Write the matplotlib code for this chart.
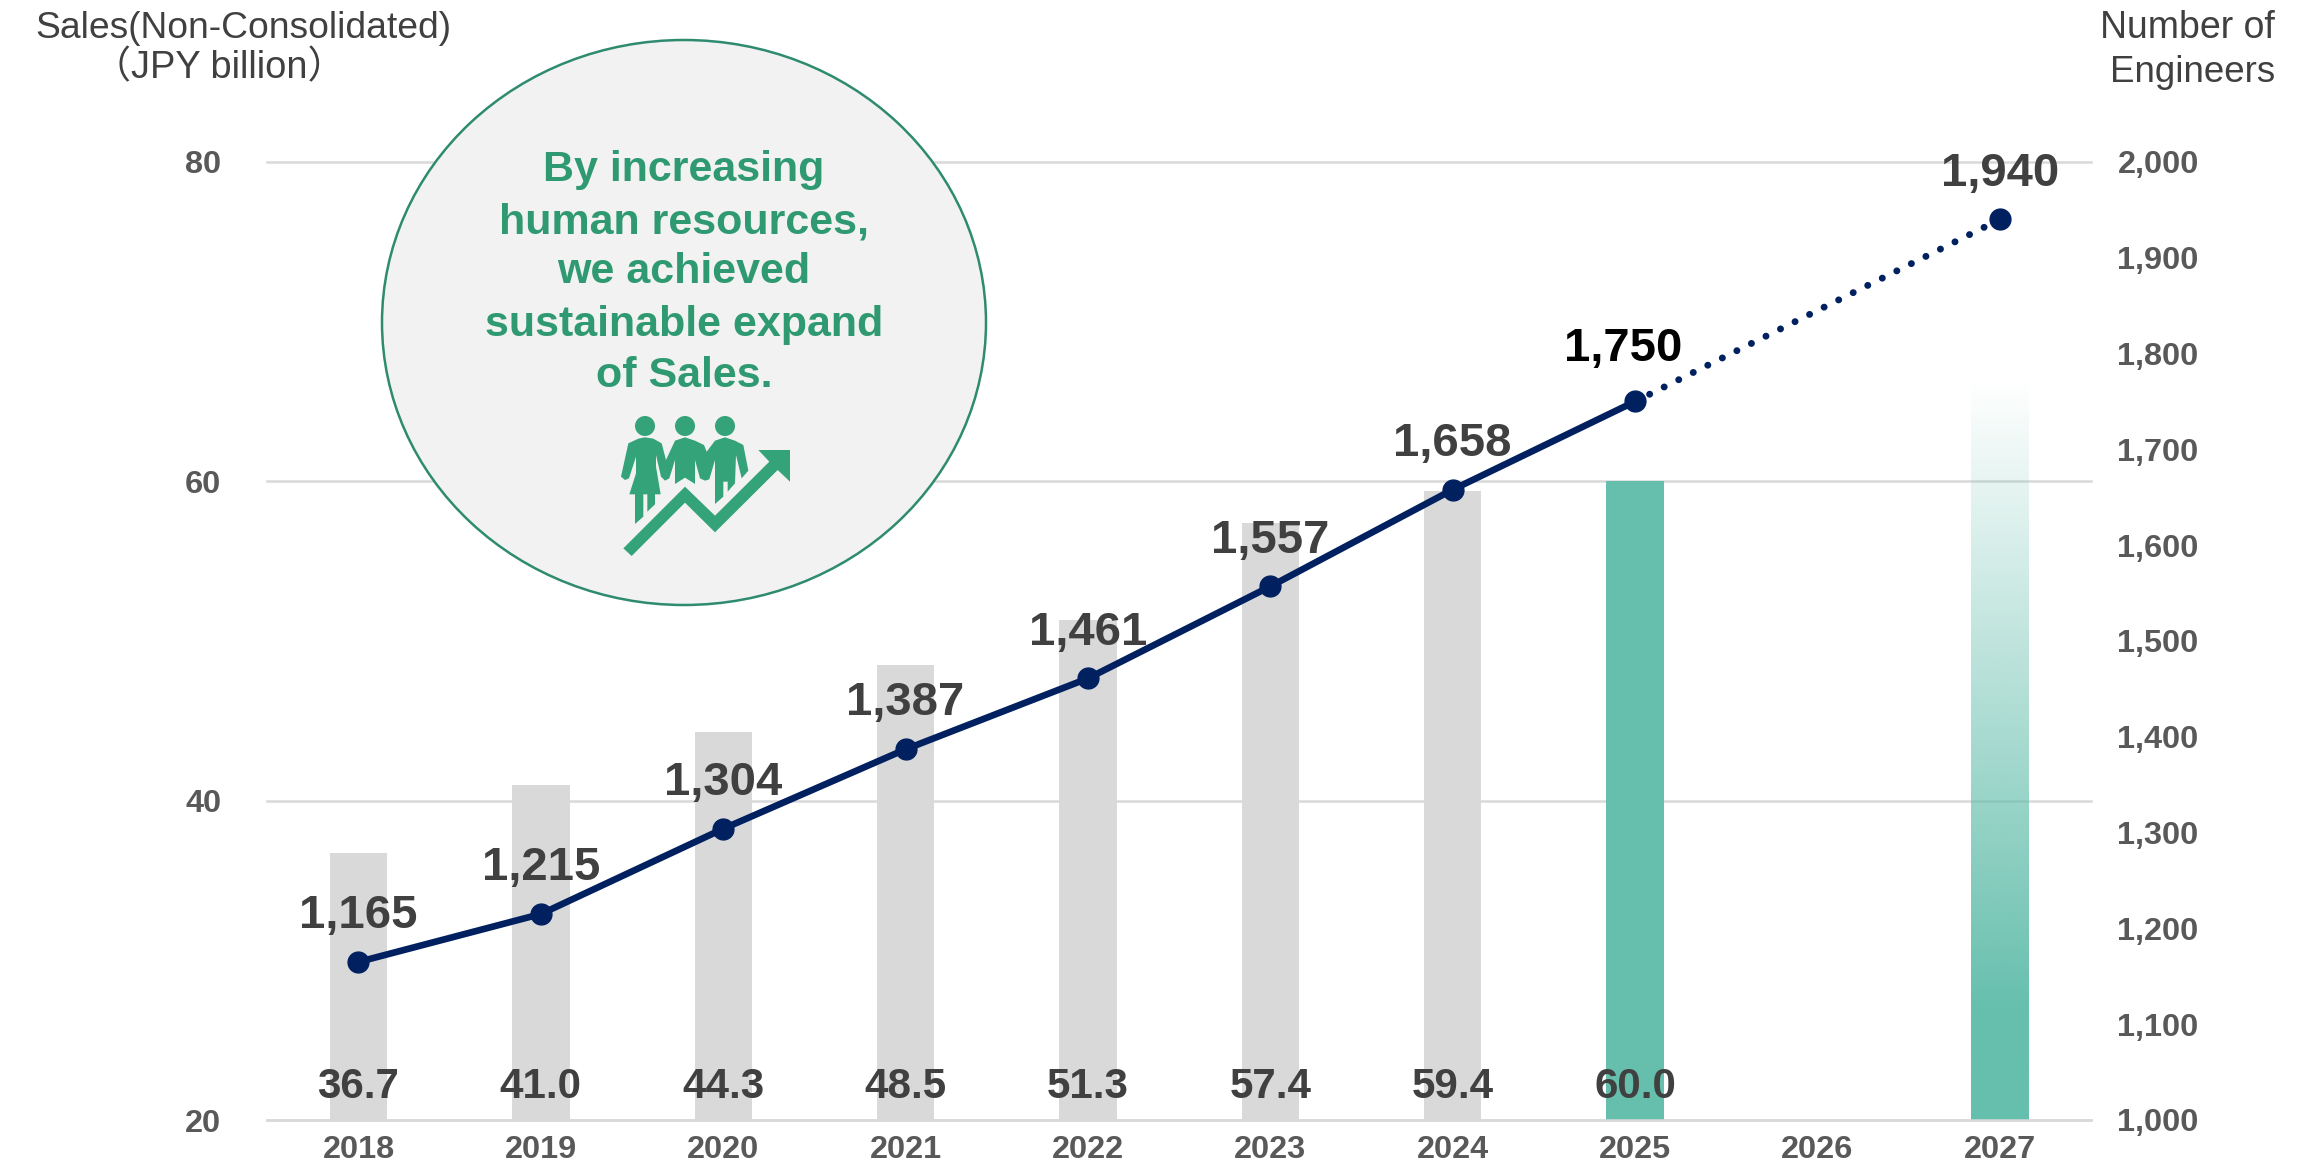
import numpy as np
import matplotlib
matplotlib.use("Agg")
import matplotlib.pyplot as plt
from matplotlib.patches import Circle, Ellipse, Polygon

plt.rcParams['font.family'] = ['Liberation Sans', 'Noto Sans CJK JP', 'DejaVu Sans']

years = ['2018', '2019', '2020', '2021', '2022', '2023', '2024', '2025', '2026', '2027']
sales_years = ['2018', '2019', '2020', '2021', '2022', '2023', '2024', '2025']
sales = [36.7, 41.0, 44.3, 48.5, 51.3, 57.4, 59.4, 60.0]
sales_labels = ['36.7', '41.0', '44.3', '48.5', '51.3', '57.4', '59.4', '60.0']
target_year = '2027'
target_sales = 66.4
eng_years = ['2018', '2019', '2020', '2021', '2022', '2023', '2024', '2025']
engineers = [1165, 1215, 1304, 1387, 1461, 1557, 1658, 1750]
plan_years = ['2025', '2027']
plan_engineers = [1750, 1940]
left_ticks = [20, 40, 60, 80]
right_ticks = [1000, 1100, 1200, 1300, 1400, 1500, 1600, 1700, 1800, 1900, 2000]
circle_lines = ['By increasing', 'human resources,', 'we achieved', 'sustainable expand', 'of Sales.']

W, H = 2307, 1173
GRID = '#D9D9D9'; GRAY = '#D9D9D9'; TEAL = '#66BFAD'; NAVY = '#002060'
TXT = '#404040'; TICK = '#595959'; GREEN = '#2F9A72'; ICON = '#35A37A'; RING = '#2E8B6F'

fig = plt.figure(figsize=(W/100, H/100), dpi=100)
L, R, T, B = 267.3, 2091, 162, 1120
ax = fig.add_axes([L/W, 1-B/H, (R-L)/W, (B-T)/H])
pos = {y: i for i, y in enumerate(years)}
bw = 0.315

ax.set_axisbelow(True)
ax.yaxis.grid(True, color=GRID, lw=1.8, zorder=0, clip_on=False)
colors = [GRAY]*7 + [TEAL]
ax.bar([pos[y] for y in sales_years], sales, width=bw, color=colors, zorder=2)

# gradient bar
n = 256
frac = np.linspace(0, 1, n)
alpha = np.clip((1-frac)/(1-0.15), 0, 1)
rgba = np.zeros((n, 1, 4))
rgba[..., :3] = matplotlib.colors.to_rgb(TEAL)
rgba[:, 0, 3] = alpha
xt = pos[target_year]
ax.imshow(rgba, origin='lower', aspect='auto', zorder=2, interpolation='bilinear',
          extent=[xt-bw/2, xt+bw/2, 20, target_sales])

ax.set_xlim(-0.5, 9.5)
ax.set_ylim(20, 80)
ax.set_xticks(range(len(years)))
ax.set_xticklabels(years)
ax.set_yticks(left_ticks)
ax.tick_params(axis='x', length=0, pad=11, labelsize=23.4, labelcolor=TICK)
ax.tick_params(axis='y', length=0, pad=33, labelsize=23.4, labelcolor=TICK)
for l in ax.get_xticklabels() + ax.get_yticklabels():
    l.set_fontweight('bold')
for s in ax.spines.values():
    s.set_visible(False)
ax.spines['bottom'].set_visible(True)
ax.spines['bottom'].set_color(GRID)
ax.spines['bottom'].set_linewidth(1.8)

for y, v, t in zip(sales_years, sales, sales_labels):
    ax.annotate(t, (pos[y], 20), xytext=(0, 24), textcoords='offset points', ha='center', va='center',
                fontsize=30.3, fontweight='bold', color=TXT, zorder=6)

ax2 = ax.twinx()
ax2.set_xlim(-0.5, 9.5)
ax2.set_ylim(1000, 2000)
ax2.set_yticks(right_ticks)
ax2.set_yticklabels([f'{v:,}' for v in right_ticks])
ax2.tick_params(axis='y', length=0, pad=19, labelsize=23.4, labelcolor=TICK)
for l in ax2.get_yticklabels():
    l.set_fontweight('bold')
for s in ax2.spines.values():
    s.set_visible(False)
ax2.plot([pos[y] for y in plan_years], plan_engineers, color=NAVY, lw=5,
         linestyle=(0, (0.01, 2.33)), dash_capstyle='round', zorder=3)
ax2.plot([pos[y] for y in eng_years], engineers, color=NAVY, lw=4.8, zorder=4,
         solid_capstyle='round')
ax2.plot([pos[y] for y in eng_years + ['2027']], engineers + [plan_engineers[-1]], ls='none',
         marker='o', ms=15, color=NAVY, zorder=5)
for y, v in zip(eng_years, engineers):
    dx, dy, c = (0, 33, TXT)
    if y == '2025':
        dx, dy, c = (-8.5, 38, '#000000')
    ax2.annotate(f'{v:,}', (pos[y], v), xytext=(dx, dy), textcoords='offset points', ha='center',
                 va='center', fontsize=34, fontweight='bold', color=c, zorder=6)
ax2.annotate(f'{plan_engineers[-1]:,}', (pos['2027'], plan_engineers[-1]), xytext=(0, 33),
             textcoords='offset points', ha='center', va='center', fontsize=34,
             fontweight='bold', color=TXT, zorder=6)

# overlay in pixel coordinates for the callout
ov = fig.add_axes([0, 0, 1, 1], facecolor='none')
ov.set_xlim(0, W); ov.set_ylim(H, 0); ov.axis('off')
ov.add_patch(Ellipse((684, 322.5), 604, 565, facecolor='#F2F2F2', edgecolor=RING, lw=1.8))
for t, yy in zip(circle_lines, [170, 222, 272, 325, 376]):
    ov.text(684, yy, t, ha='center', va='center', fontsize=31, fontweight='bold', color=GREEN)

ov.text(243.5, 28, 'Sales(Non-Consolidated)', ha='center', va='center', fontsize=26.8, color=TXT)
ov.text(219, 68, '（JPY billion）', ha='center', va='center', fontsize=27.4, color=TXT)
ov.text(2275, 28, 'Number of', ha='right', va='center', fontsize=27, color=TXT)
ov.text(2275, 73, 'Engineers', ha='right', va='center', fontsize=26.5, color=TXT)

# icon (drawn in 3x crop coordinates of region starting at 560,380)
def P(pts):
    return [(560+x/3, 380+y/3) for x, y in pts]
arrow = [(190,505),(375,320),(465,407),(628,245),(595,210),(690,210),(690,305),(653,270),(465,457),(375,368),(215,528)]
woman = [(205,190),(235,176),(255,172),(280,176),(305,190),(318,240),(345,182),(375,172),(405,182),(432,195),(440,215),
         (465,182),(495,172),(525,182),(550,195),(565,272),(545,295),(528,225),(525,310),(503,335),(503,305),(490,305),
         (490,350),(465,372),(465,240),(448,298),(435,302),(420,295),(405,240),(405,312),(375,293),(345,312),(345,240),
         (328,295),(315,302),(303,290),(288,225),(288,260),(302,343),(285,343),(285,373),(262,395),(262,343),(250,343),
         (250,410),(225,432),(225,343),(208,343),(228,280),(228,230),(207,295),(195,300),(183,290)]
ov.add_patch(Polygon(P(arrow), closed=True, facecolor=ICON, edgecolor='none'))
ov.add_patch(Polygon(P(woman), closed=True, facecolor=ICON, edgecolor='none'))
for cx in (255, 375, 495):
    ov.add_patch(Circle((560+cx/3, 380+138/3), 10, facecolor=ICON, edgecolor='none'))

fig.savefig('out.png', dpi=100)
